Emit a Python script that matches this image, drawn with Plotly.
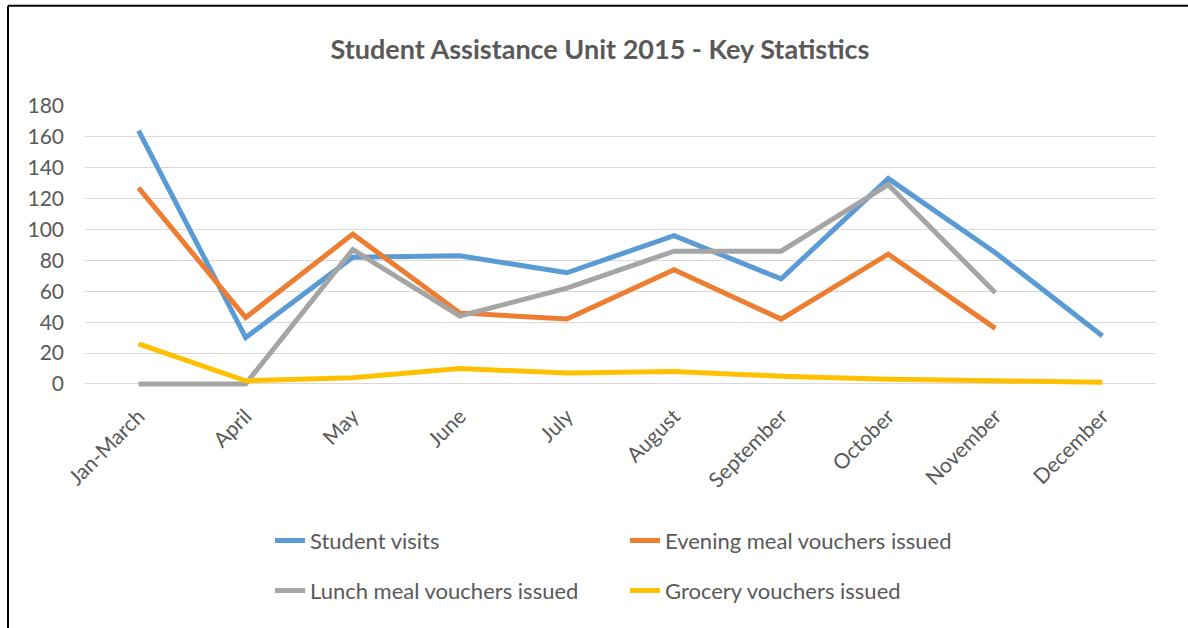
import plotly.graph_objects as go

categories = ["Jan-March", "April", "May", "June", "July", "August",
              "September", "October", "November", "December"]
student_visits = [164, 30, 82, 83, 72, 96, 68, 133, 85, 31]
evening_meal = [127, 43, 97, 46, 42, 74, 42, 84, 36, None]
lunch_meal = [0, 0, 87, 44, 62, 86, 86, 129, 59, None]
grocery = [26, 2, 4, 10, 7, 8, 5, 3, 2, 1]
y_ticks = [0, 20, 40, 60, 80, 100, 120, 140, 160, 180]

FONT = "Lato"
TXT = "#595959"

series = [
    ("Student visits", student_visits, "#5B9BD5", "legend"),
    ("Evening meal vouchers issued", evening_meal, "#ED7D31", "legend"),
    ("Lunch meal vouchers issued", lunch_meal, "#A5A5A5", "legend2"),
    ("Grocery vouchers issued", grocery, "#FFC000", "legend2"),
]

fig = go.Figure()
for name, vals, color, leg in series:
    fig.add_trace(go.Scatter(
        x=categories, y=vals, name=name, mode="lines",
        line=dict(color=color, width=5), legend=leg,
        connectgaps=False,
    ))

# plot area in pixels
L, R, T, B = 85, 1156, 105.5, 387.0
W, H = R - L, B - T

def px_x(p):
    return (p - L) / W

def px_y(p):
    return (B - p) / H

frame = dict(color="#000000", width=2)

fig.update_layout(
    width=1188, height=628,
    margin=dict(l=L, r=1188 - R, t=T, b=628 - B, autoexpand=False),
    paper_bgcolor="white", plot_bgcolor="white",
    font=dict(family=FONT, color=TXT, size=20),
    title=dict(text="<b>Student Assistance Unit 2015 - Key Statistics</b>",
               x=0.505, xanchor="center", y=1 - 50 / 628, yanchor="middle",
               font=dict(family=FONT, size=27, color=TXT)),
    xaxis=dict(type="category", categoryorder="array", categoryarray=categories,
               range=[-0.5, 9.5], showgrid=False, showline=False, zeroline=False,
               ticks="", tickangle=-45, tickfont=dict(size=21, color=TXT),
               ticklabelstandoff=12),
    yaxis=dict(range=[-2, 180], tickvals=y_ticks, showgrid=True,
               gridcolor="#D9D9D9", gridwidth=1.3, zeroline=True,
               zerolinecolor="#D9D9D9", zerolinewidth=1.3, showline=False,
               ticks="", tickfont=dict(size=21, color=TXT),
               ticklabelstandoff=20),
    legend=dict(orientation="h", x=px_x(270), xanchor="left",
                y=px_y(541), yanchor="middle", entrywidth=310,
                font=dict(size=22, color=TXT), bgcolor="rgba(0,0,0,0)"),
    legend2=dict(orientation="h", x=px_x(270), xanchor="left",
                 y=px_y(591), yanchor="middle", entrywidth=310,
                 font=dict(size=22, color=TXT), bgcolor="rgba(0,0,0,0)"),
    shapes=[
        dict(type="line", xref="paper", yref="paper",
             x0=px_x(8), x1=px_x(1200), y0=px_y(5), y1=px_y(5),
             line=frame, layer="above"),
        dict(type="line", xref="paper", yref="paper",
             x0=px_x(8), x1=px_x(8), y0=px_y(5), y1=px_y(640),
             line=frame, layer="above"),
    ],
)

fig.write_html("out.html", config={"displayModeBar": False},
               post_script="document.body.style.margin='0';document.body.style.overflow='hidden';")
